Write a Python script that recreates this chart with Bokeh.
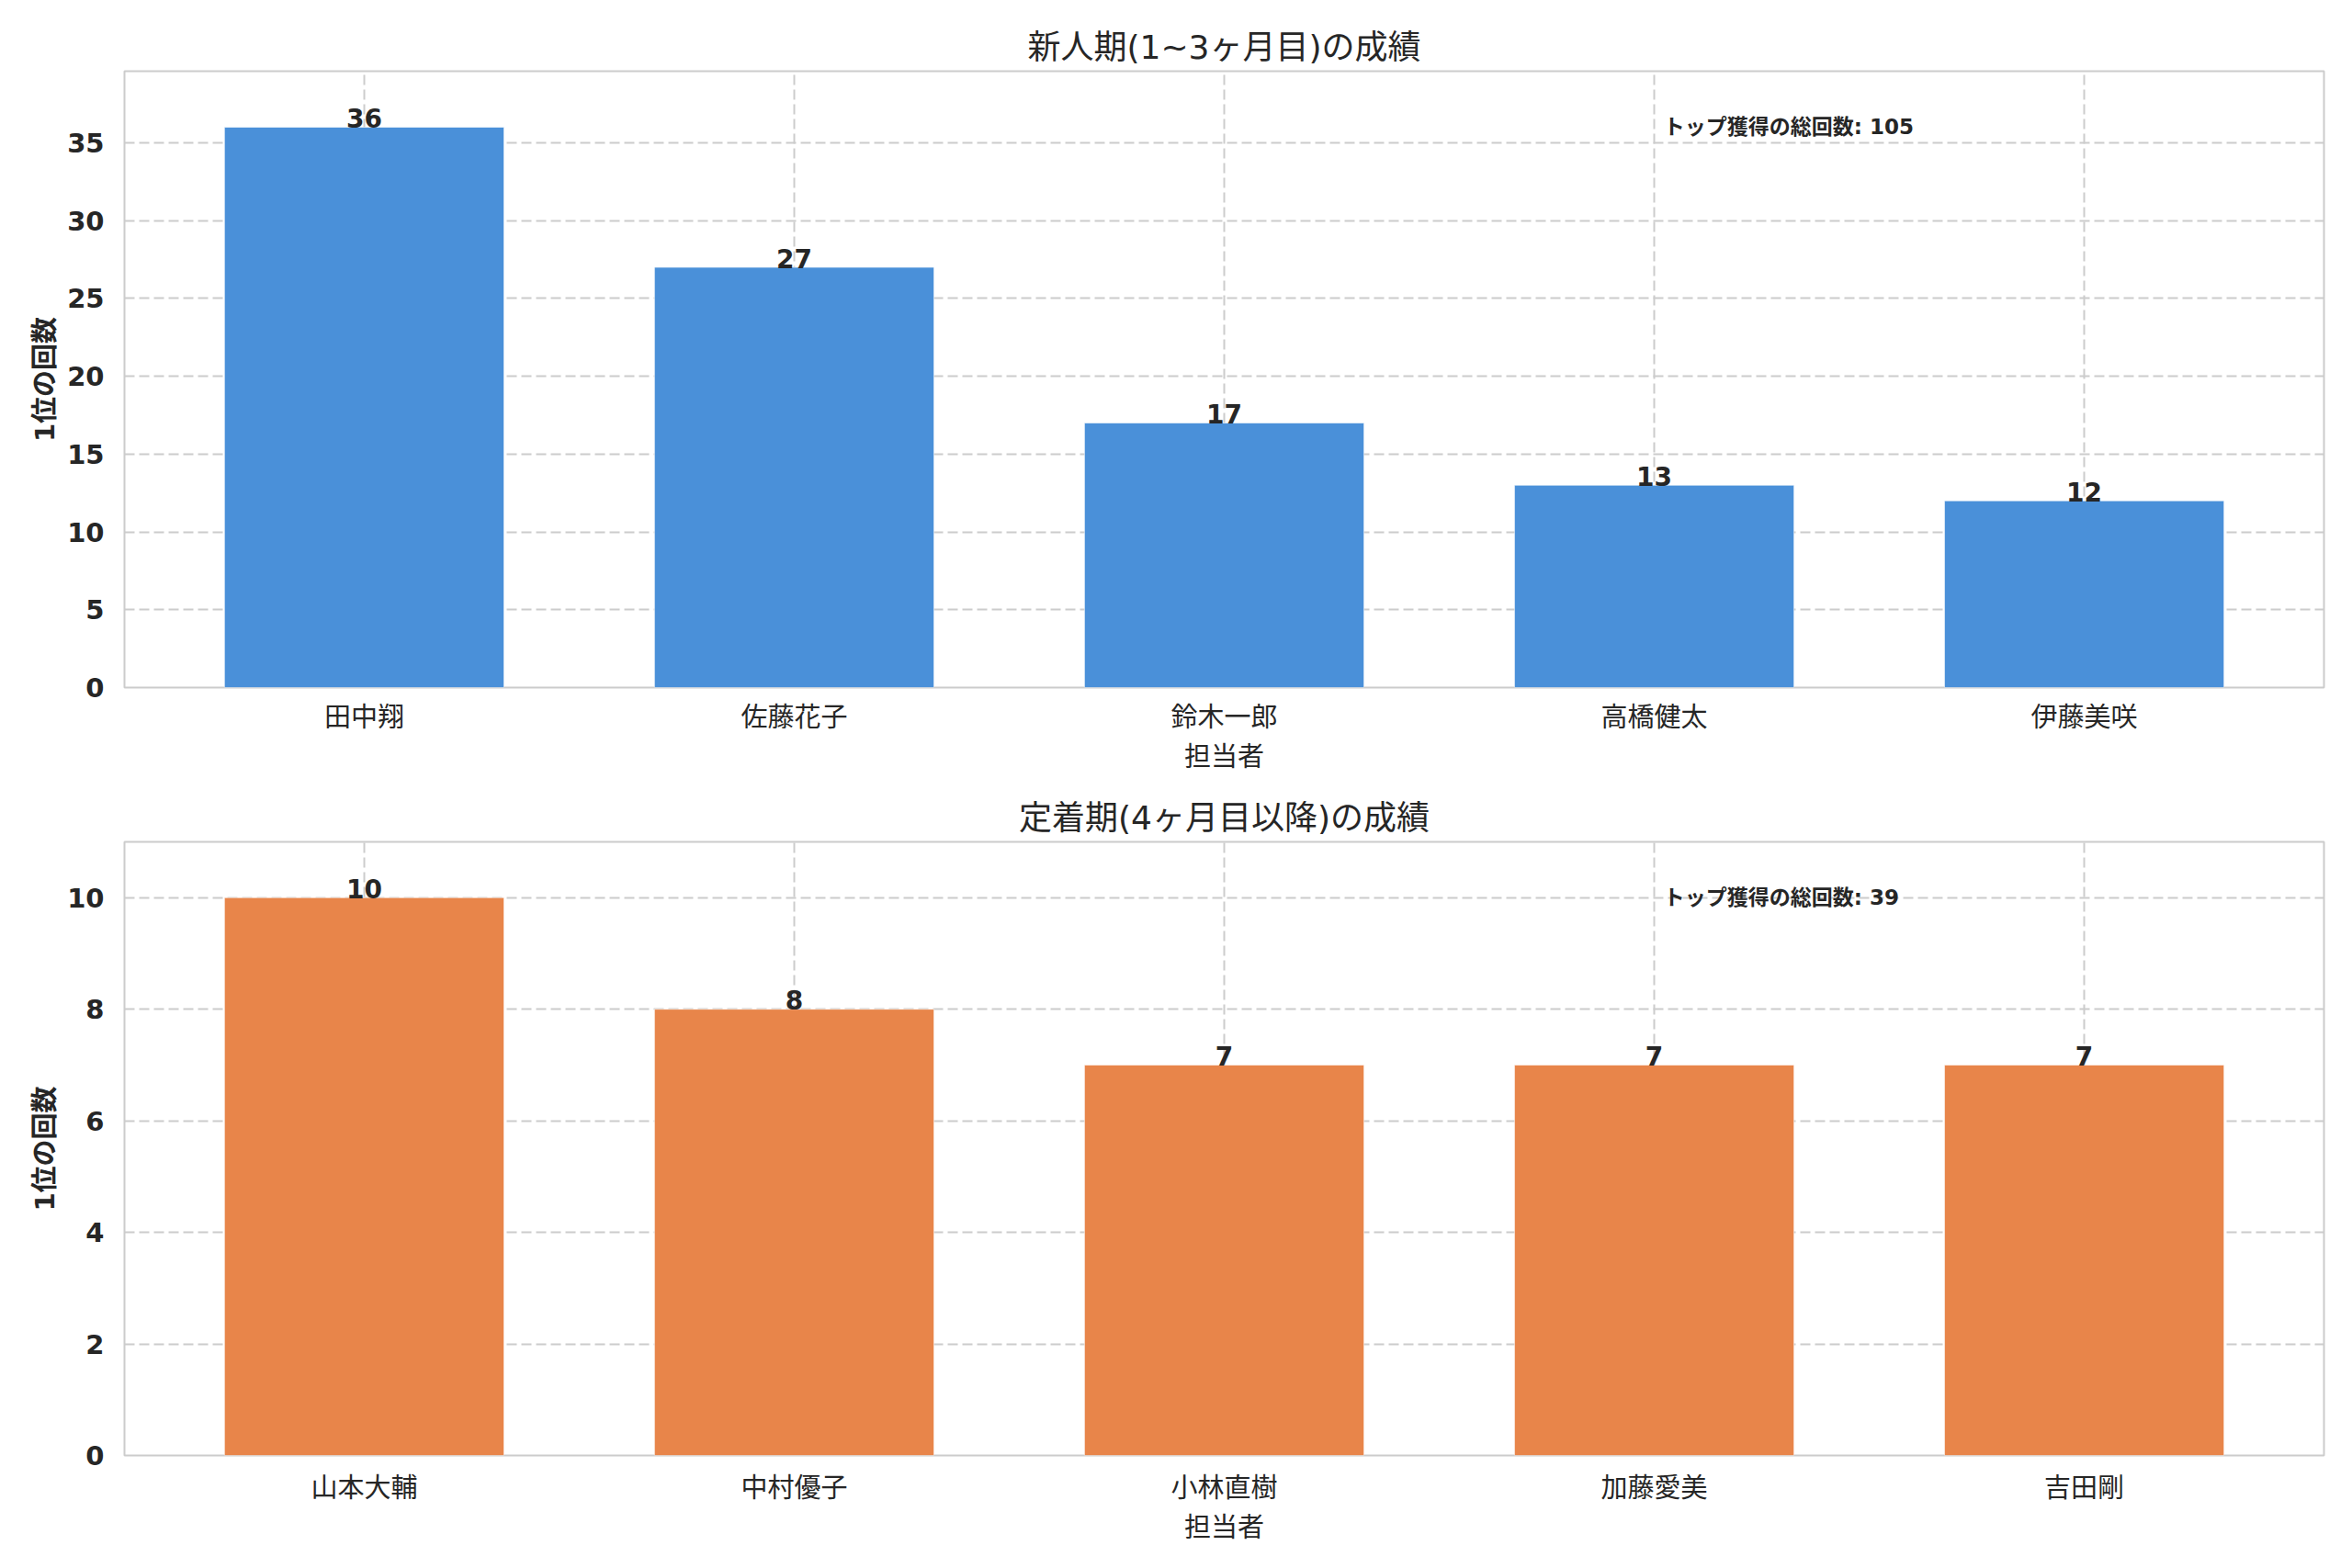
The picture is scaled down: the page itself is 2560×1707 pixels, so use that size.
from bokeh.plotting import figure
from bokeh.models import ColumnDataSource, FactorRange, Range1d, FixedTicker, Label
from bokeh.layouts import column
from bokeh.core.properties import value
from bokeh.embed import file_html
from bokeh.resources import INLINE

# ---- data ----
title_top = "新人期(1~3ヶ月目)の成績"
title_bottom = "定着期(4ヶ月目以降)の成績"
x_label = "担当者"
y_label = "1位の回数"
total_label = "トップ獲得の総回数"

names_top = ["田中翔", "佐藤花子", "鈴木一郎", "高橋健太", "伊藤美咲"]
counts_top = [36, 27, 17, 13, 12]
ticks_top = [0, 5, 10, 15, 20, 25, 30, 35]

names_bottom = ["山本大輔", "中村優子", "小林直樹", "加藤愛美", "吉田剛"]
counts_bottom = [10, 8, 7, 7, 7]
ticks_bottom = [0, 2, 4, 6, 8, 10]

BLUE = "#4A90D9"
ORANGE = "#E8854A"
TXT = "#262626"
FONT = "'DejaVu Sans', 'Noto Sans CJK JP'"


def make_chart(names, counts, ticks, color, title, height, border_top, border_bottom, xstandoff):
    ymax = max(counts) * 1.1
    p = figure(
        x_range=FactorRange(factors=names, range_padding=0.023),
        y_range=Range1d(0, ymax),
        width=2552, height=height,
        output_backend="svg", toolbar_location=None,
        min_border_left=135, min_border_right=23,
        min_border_top=border_top, min_border_bottom=border_bottom,
        background_fill_color="white", border_fill_color="white",
    )
    p.title.text = title
    p.title.align = "center"
    p.title.text_font = FONT
    p.title.text_font_size = "36px"
    p.title.text_font_style = "normal"
    p.title.text_color = TXT
    p.title.standoff = 11

    src = ColumnDataSource(dict(name=names, count=counts, label=[str(c) for c in counts]))
    p.vbar(x="name", top="count", width=0.65, source=src, fill_color=color,
           line_color="white", line_width=1, line_alpha=0.6)
    p.text(x="name", y="count", text="label", source=src,
           text_align="center", text_baseline="alphabetic", y_offset=-10,
           text_font=value("DejaVu Sans"), text_font_style="bold",
           text_font_size="28px", text_color=TXT)

    total = sum(counts)
    p.add_layout(Label(x=3.522, y=ymax * 0.91, text=f"{total_label}: {total}",
                       text_font=FONT, text_font_style="bold",
                       text_font_size="23px", text_color=TXT,
                       text_baseline="alphabetic", text_align="left"))

    p.outline_line_color = "#cccccc"
    p.outline_line_width = 2

    for g in (p.xgrid[0], p.ygrid[0]):
        g.grid_line_color = "#cccccc"
        g.grid_line_width = 2
        g.grid_line_dash = "11 5"

    p.yaxis.ticker = FixedTicker(ticks=ticks)
    for ax in (p.xaxis[0], p.yaxis[0]):
        ax.axis_line_color = None
        ax.major_tick_line_color = None
        ax.minor_tick_line_color = None
        ax.major_tick_out = 0
        ax.major_tick_in = 0
        ax.major_label_text_font = FONT
        ax.major_label_text_font_size = "29px"
        ax.major_label_text_color = TXT
        ax.axis_label_text_font = FONT
        ax.axis_label_text_font_size = "29px"
        ax.axis_label_text_color = TXT

    p.xaxis.axis_label = x_label
    p.xaxis.axis_label_text_font_style = "normal"
    p.xaxis.major_label_text_font_style = "normal"
    p.xaxis.major_label_standoff = xstandoff
    p.xaxis.axis_label_standoff = 6

    p.yaxis.axis_label = y_label
    p.yaxis.axis_label_text_font_style = "bold"
    p.yaxis.major_label_text_font_style = "bold"
    p.yaxis.major_label_standoff = 22
    p.yaxis.axis_label_standoff = 4
    return p


p1 = make_chart(names_top, counts_top, ticks_top, BLUE, title_top, 856, 77, 108, 15)
p2 = make_chart(names_bottom, counts_bottom, ticks_bottom, ORANGE, title_bottom, 842, 60, 114, 18)

layout = column(p1, p2, spacing=0)
open("out.html", "w").write(file_html(layout, INLINE))
